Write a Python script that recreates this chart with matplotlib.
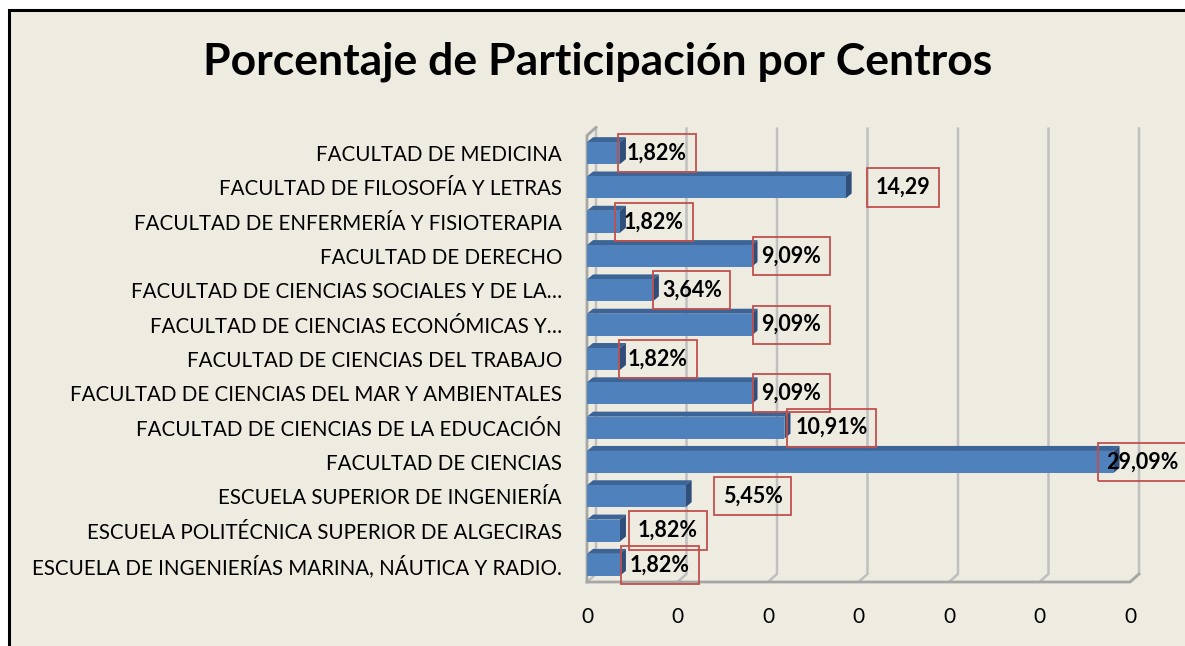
import matplotlib
matplotlib.use("Agg")
import matplotlib.pyplot as plt
from matplotlib.patches import Polygon, Rectangle
from matplotlib.ticker import FuncFormatter

# data, top to bottom as in the chart
centros = [
    "FACULTAD DE MEDICINA",
    "FACULTAD DE FILOSOFÍA Y LETRAS",
    "FACULTAD DE ENFERMERÍA Y FISIOTERAPIA",
    "FACULTAD DE DERECHO",
    "FACULTAD DE CIENCIAS SOCIALES Y DE LA…",
    "FACULTAD DE CIENCIAS ECONÓMICAS Y…",
    "FACULTAD DE CIENCIAS DEL TRABAJO",
    "FACULTAD DE CIENCIAS DEL MAR Y AMBIENTALES",
    "FACULTAD DE CIENCIAS DE LA EDUCACIÓN",
    "FACULTAD DE CIENCIAS",
    "ESCUELA SUPERIOR DE INGENIERÍA",
    "ESCUELA POLITÉCNICA SUPERIOR DE ALGECIRAS",
    "ESCUELA DE INGENIERÍAS MARINA, NÁUTICA Y RADIO.",
]
porcentaje = [0.0182, 0.1429, 0.0182, 0.0909, 0.0364, 0.0909, 0.0182,
              0.0909, 0.1091, 0.2909, 0.0545, 0.0182, 0.0182]
etiquetas = ["1,82%", "14,29", "1,82%", "9,09%", "3,64%", "9,09%", "1,82%",
             "9,09%", "10,91%", "29,09%", "5,45%", "1,82%", "1,82%"]
ticks = [0, 0.05, 0.10, 0.15, 0.20, 0.25, 0.30]

# label text offsets in pixels from bar end (Excel placement, roughly)
lab_dx = [7, 30, 4, 10, 9, 10, 8, 10, 11, -7, 37, 18, 10]

bg = "#EEECE1"
W, H = 1185, 646
fig = plt.figure(figsize=(W / 100, H / 100), dpi=100)
fig.patch.set_facecolor("white")

# chart area with black frame on left/top
back = fig.add_axes([0, 0, 1, 1], zorder=-5)
back.set_xlim(0, W)
back.set_ylim(H, 0)
back.axis("off")
back.add_patch(Rectangle((9, 10), W + 20, H + 20, facecolor=bg, edgecolor="black",
                         linewidth=2.2, clip_on=False))

x0, x1 = 587, 1130
y0, y1 = 582, 136
ax = fig.add_axes([x0 / W, 1 - y0 / H, (x1 - x0) / W, (y0 - y1) / H])
ax.set_facecolor("none")
n = len(centros)
ax.set_xlim(0, 0.30)
ax.set_ylim(-0.5, n - 0.5)
for s in ax.spines.values():
    s.set_visible(False)

px = 0.30 / (x1 - x0)
py = n / (y0 - y1)

# walls / gridlines
dX, dY = 9 * px, 8 * py
grid_c = "#BFBFBF"
bottom, top = -0.5, n - 0.5 + 0.25
for t in ticks:
    ax.plot([t, t + dX, t + dX], [bottom, bottom + dY, top], color=grid_c, lw=1.8,
            clip_on=False, zorder=1, solid_capstyle="butt")
ax.plot([0, 0, dX], [bottom, top - dY, top], color="#A6A6A6", lw=2, clip_on=False, zorder=1)
ax.plot([0, ticks[-1], ticks[-1] + dX], [bottom, bottom, bottom + dY], color="#A6A6A6", lw=2,
        clip_on=False, zorder=1)

# 3d bars
front_c, top_c, side_c = "#4F81BD", "#3C6496", "#2F4F7A"
bh = 0.64
bdx, bdy = 6 * px, 5 * py
for i, v in enumerate(porcentaje):
    y = n - 1 - i
    yb, yt = y - bh / 2, y + bh / 2
    ax.add_patch(Polygon([(0, yt), (v, yt), (v + bdx, yt + bdy), (bdx, yt + bdy)],
                         closed=True, facecolor=top_c, edgecolor="none", zorder=3, clip_on=False))
    ax.add_patch(Polygon([(v, yb), (v + bdx, yb + bdy), (v + bdx, yt + bdy), (v, yt)],
                         closed=True, facecolor=side_c, edgecolor="none", zorder=3, clip_on=False))
    ax.barh(y, v, height=bh, color=front_c, edgecolor="none", zorder=4, clip_on=False)
    ax.annotate(etiquetas[i], (v, y), xytext=(lab_dx[i], 0), textcoords="offset pixels",
                ha="left", va="center", fontsize=15.5, fontweight="bold", family="Lato",
                zorder=6, annotation_clip=False,
                bbox=dict(boxstyle="square,pad=0.4", facecolor="none", edgecolor="#C0504D", lw=1.3))

ax.set_yticks(range(n))
ax.set_yticklabels(centros[::-1], fontsize=14.8, family="Lato")
ax.set_xticks(ticks)
ax.xaxis.set_major_formatter(FuncFormatter(lambda v, p: "0"))
ax.tick_params(axis="both", length=0)
ax.tick_params(axis="y", pad=18)
ax.tick_params(axis="x", pad=18, labelsize=15)
for lb in ax.get_xticklabels():
    lb.set_family("Lato")

fig.text(598 / W, 1 - 62 / H, "Porcentaje de Participación por Centros", ha="center", va="center",
         fontsize=32, fontweight="bold", family="Lato")

fig.savefig("out.png", dpi=100, facecolor=fig.get_facecolor())
